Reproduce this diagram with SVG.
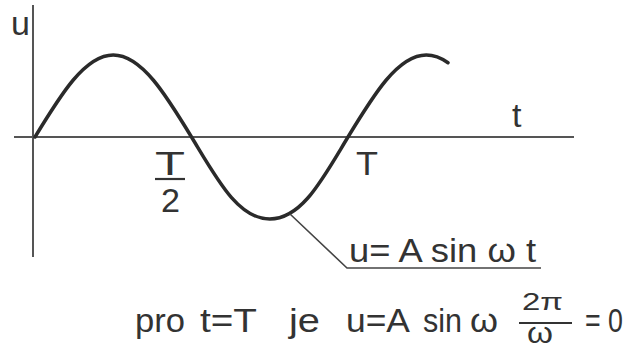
<svg xmlns="http://www.w3.org/2000/svg" width="632" height="351" viewBox="0 0 632 351">
<style>
.axis{stroke:#555;stroke-width:2;fill:none}
.curve{stroke:#2a2a2a;stroke-width:3.5;fill:none;stroke-linecap:round}
.lead{stroke:#444;stroke-width:1.6;fill:none}
.ul{stroke:#333;stroke-width:2.2;fill:none}
text{font-family:"Liberation Sans",Arial,sans-serif;fill:#333;font-size:34px}
.sm{font-size:24px}
.om{font-size:30px}
</style>
<rect width="632" height="351" fill="#fff"/>
<g id="axes">
<line class="axis" x1="33" y1="5" x2="33" y2="257"/>
<line class="axis" x1="14" y1="137" x2="574" y2="137"/>
<text x="11" y="35">u</text>
<text x="512" y="127">t</text>
</g>
<g id="sine">
<path class="curve" d="M35,137 C60.5,95 84.9,55 113.25,55 C141.6,55 166,95 191.5,137 C217,179 238,219 269.75,219 C302,219 322.5,179 348,137 C373.5,95 397.9,55 426.25,55 C433.5,55 440.75,57.6 448,62.7"/>
</g>
<g id="labels">
<text x="155" y="175" textLength="30" lengthAdjust="spacingAndGlyphs">T</text>
<line class="ul" x1="155" y1="179" x2="185" y2="179"/>
<text x="161" y="212" textLength="19" lengthAdjust="spacingAndGlyphs">2</text>
<text x="356" y="175" textLength="22" lengthAdjust="spacingAndGlyphs">T</text>
</g>
<g id="connectors">
<polyline class="lead" points="290,214 347,268 541,268"/>
</g>
<g id="formula">
<text x="349" y="262" textLength="187" lengthAdjust="spacingAndGlyphs">u= A sin ω t</text>
</g>
<g id="condition">
<text x="135" y="332" textLength="50" lengthAdjust="spacingAndGlyphs">pro</text>
<text x="200" y="332" textLength="57" lengthAdjust="spacingAndGlyphs">t=T</text>
<text x="289" y="332" textLength="31" lengthAdjust="spacingAndGlyphs">je</text>
<text x="346" y="332" textLength="64" lengthAdjust="spacingAndGlyphs">u=A</text>
<text x="423" y="332" textLength="39" lengthAdjust="spacingAndGlyphs">sin</text>
<text x="470" y="332" textLength="28" lengthAdjust="spacingAndGlyphs">ω</text>
<text class="sm" x="522" y="310" textLength="41" lengthAdjust="spacingAndGlyphs">2π</text>
<line class="ul" x1="519" y1="323" x2="572" y2="323"/>
<text class="om" x="527" y="343" textLength="26" lengthAdjust="spacingAndGlyphs">ω</text>
<text x="585" y="332" textLength="38" lengthAdjust="spacingAndGlyphs">= 0</text>
</g>
</svg>
